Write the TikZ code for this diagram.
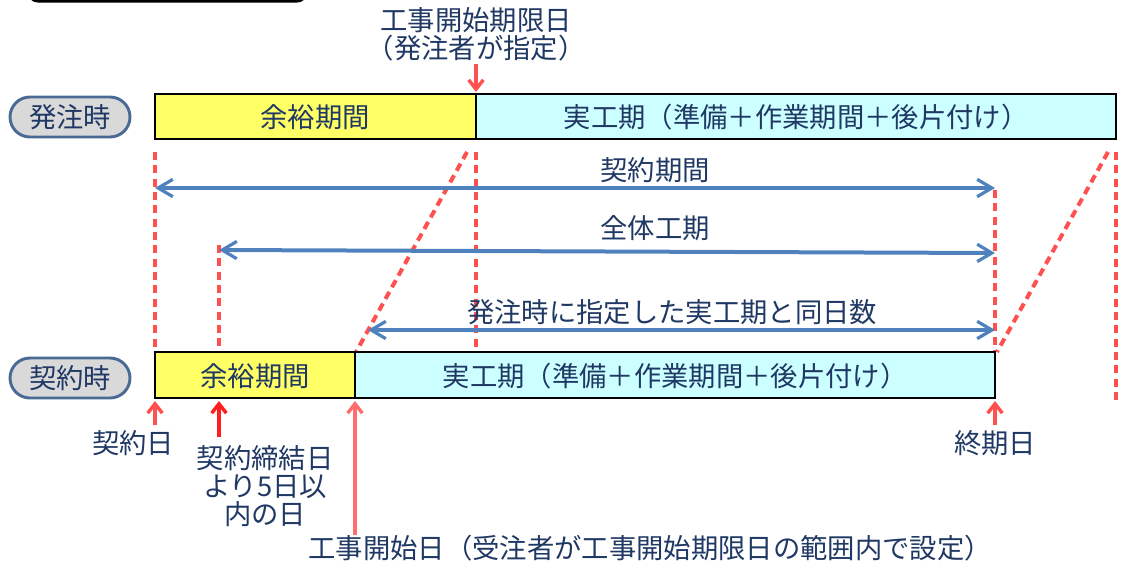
\documentclass[tikz,border=0pt]{standalone}
\usepackage{fontspec}
\newfontfamily\jp{Noto Sans CJK JP}
\usetikzlibrary{arrows.meta}
\definecolor{navy}{RGB}{31,56,100}
\definecolor{barY}{RGB}{255,255,102}
\definecolor{barC}{RGB}{204,255,255}
\definecolor{redD}{RGB}{255,80,80}
\definecolor{redS}{RGB}{255,30,30}
\definecolor{redL}{RGB}{255,110,110}
\definecolor{blueA}{RGB}{79,129,189}
\definecolor{pillG}{RGB}{217,217,217}
\definecolor{pillB}{RGB}{74,106,150}
\begin{document}
\begin{tikzpicture}[x=0.75pt,y=-0.75pt,
  font=\jp\fontsize{20.5}{21}\selectfont,
  lbl/.style={text=navy, inner sep=0pt},
  pill/.style={draw=pillB, line width=2.2pt, fill=pillG, rounded corners=15pt,
    minimum width=90pt, minimum height=30pt, text=navy, inner sep=0pt},
  bar/.style={draw=black, line width=2.2pt},
  guide/.style={draw=redD, line width=3pt, dash pattern=on 6pt off 4pt},
  span/.style={draw=blueA, line width=3pt,
    {Straight Barb[length=11pt,width=13pt,line width=2.4pt]}-{Straight Barb[length=11pt,width=13pt,line width=2.4pt]}},
  redarrow/.style={draw=redD, line width=3pt, -{Straight Barb[length=7pt,width=11pt,line width=2.6pt]}}]
\useasboundingbox (0,0) rectangle (1121,565);
\clip (0,0) rectangle (1121,565);

% partially visible frame at the top
\draw[line width=2.5pt, rounded corners=8pt] (28,-30) rectangle (307,1);

% key coordinates
\coordinate (A1) at (155,94);   \coordinate (A2) at (476,94);  \coordinate (A3) at (1116,139);
\coordinate (B1) at (155,352);  \coordinate (B2) at (355,352); \coordinate (B3) at (995,398);

% red dashed guides
\draw[guide] (155,152) -- (155,352);
\draw[guide] (219,245) -- (219,352);
\draw[guide] (476,152) -- (476,352);
\draw[guide] (995,190) -- (995,352);
\draw[guide] (1116,152) -- (1116,400);
\draw[guide] (467,152) -- (356,352);
\draw[guide] (1108,152) -- (997,352);

% top bar (発注時)
\fill[barY] (A1) rectangle (476,139);
\fill[barC] (A2) rectangle (A3);
\draw[bar] (A1) rectangle (A3);
\draw[bar] (A2) -- (476,139);
\node[lbl] (tY) at (315,117) {余裕期間};
\node[lbl] (tC) at (796,117) {実工期（準備＋作業期間＋後片付け）};

% bottom bar (契約時)
\fill[barY] (B1) rectangle (355,398);
\fill[barC] (B2) rectangle (B3);
\draw[bar] (B1) rectangle (B3);
\draw[bar] (B2) -- (355,398);
\node[lbl] (bY) at (255,376) {余裕期間};
\node[lbl] (bC) at (675,376) {実工期（準備＋作業期間＋後片付け）};

% pills
\node[pill] (p1) at (70,117) {発注時};
\node[pill] (p2) at (70,378) {契約時};

% blue spans
\coordinate (s1a) at (155,188); \coordinate (s1b) at (995,188);
\coordinate (s2a) at (219,250); \coordinate (s2b) at (995,253);
\coordinate (s3a) at (368,330); \coordinate (s3b) at (995,330);
\draw[span] (s1a) -- (s1b);
\draw[span] (s2a) -- (s2b);
\draw[span] (s3a) -- (s3b);
\node[lbl] (l1) at (655,170) {契約期間};
\node[lbl] (l2) at (655,228) {全体工期};
\node[lbl] (l3) at (672,312) {発注時に指定した実工期と同日数};

% top label and arrow
\node[lbl, align=center] (lim) at (476,34) {工事開始期限日\\（発注者が指定）};
\coordinate (d0) at (476,64); \coordinate (d1) at (476,92);
\draw[redarrow] (d0) -- (d1);

% bottom arrows
\coordinate (u1a) at (155,425); \coordinate (u1b) at (155,401);
\coordinate (u2a) at (219,437); \coordinate (u2b) at (219,401);
\coordinate (u3a) at (355,535); \coordinate (u3b) at (355,401);
\coordinate (u4a) at (995,425); \coordinate (u4b) at (995,401);
\draw[redarrow] (u1a) -- (u1b);
\draw[redarrow, draw=redS, line width=3.4pt] (u2a) -- (u2b);
\draw[redarrow, draw=redL, line width=2.4pt] (u3a) -- (u3b);
\draw[redarrow] (u4a) -- (u4b);

\node[lbl] (k1) at (133,443) {契約日};
\node[lbl, align=center] (k2) at (265,486) {契約締結日\\より5日以\\内の日};
\node[lbl] (k3) at (650,548) {工事開始日（受注者が工事開始期限日の範囲内で設定）};
\node[lbl] (k4) at (995,443) {終期日};
\end{tikzpicture}
\end{document}
